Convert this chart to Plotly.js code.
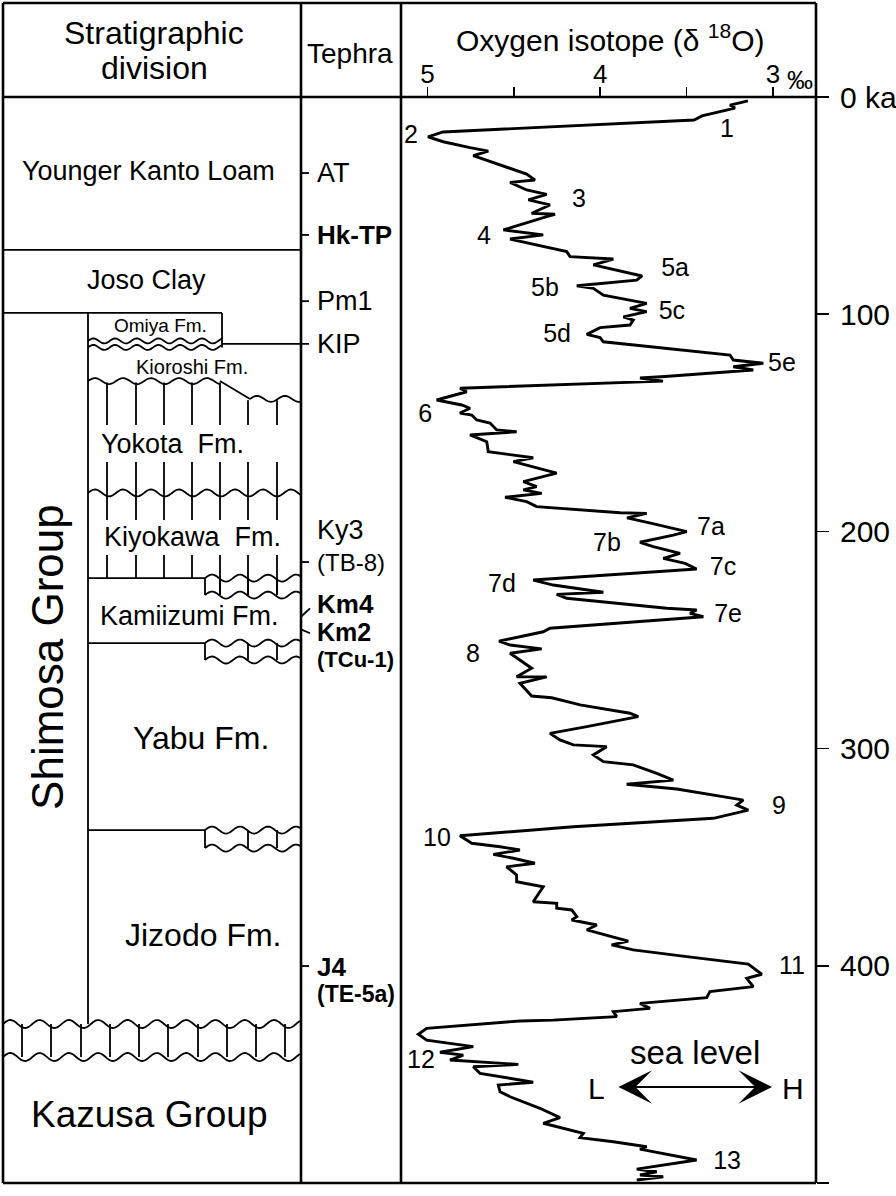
<!DOCTYPE html>
<html>
<head>
<meta charset="utf-8">
<script src="https://cdn.plot.ly/plotly-3.0.1.min.js"></script>
<style>html,body{margin:0;padding:0;background:#fff}</style>
</head>
<body>
<div id="chart" style="width:896px;height:1196px"></div>
<script>
// oxygen isotope curve, age in ka and d18O in permil
const ageKa = [1.8, 3.7, 5.1, 7.4, 8.7, 10.6, 16.1, 18.4, 20.6, 23.3, 24.9, 27.0, 31.3, 35.5, 38.2, 39.3, 42.8, 44.8, 47.4, 49.7,
  53.5, 54.0, 55.1, 61.2, 63.5, 65.4, 71.2, 73.5, 74.6, 77.3, 82.4, 84.3, 86.9, 88.1, 91.2, 95.0, 97.3, 98.8, 101.2, 102.7,
  105.0, 106.2, 109.3, 110.8, 112.7, 118.8, 121.1, 122.6, 124.2, 125.7, 128.7, 129.4, 130.8, 134.1, 135.7, 139.5, 141.8, 143.3, 145.5, 146.4,
  148.7, 150.1, 153.3, 154.1, 155.6, 158.7, 163.3, 166.1, 167.9, 173.2, 177.1, 179.4, 180.9, 182.5, 184.3, 186.3, 188.6, 191.4, 191.7, 193.8,
  196.3, 200.1, 201.7, 205.0, 207.0, 210.1, 212.4, 214.7, 217.3, 222.4, 224.7, 228.0, 229.0, 230.8, 235.4, 236.2, 237.7, 239.3, 244.6, 246.2,
  250.5, 252.3, 254.1, 256.1, 263.0, 266.9, 267.0, 269.9, 275.8, 276.6, 279.1, 279.9, 283.7, 285.3, 289.9, 291.4, 293.0, 296.0, 298.3, 299.1,
  302.9, 306.0, 307.5, 311.4, 314.5, 316.4, 318.6, 322.9, 323.7, 326.0, 328.3, 332.1, 336.0, 340.1, 343.6, 345.2, 346.7, 348.7, 350.5, 352.8,
  354.4, 358.2, 361.3, 363.6, 370.5, 371.2, 373.5, 374.3, 377.4, 378.9, 381.2, 383.5, 387.3, 388.6, 390.4, 392.7, 395.8, 396.5, 399.2, 403.9,
  405.8, 409.6, 411.9, 414.7, 417.3, 419.6, 421.1, 423.4, 425.0, 425.4, 428.8, 431.5, 434.2, 437.2, 439.8, 441.1, 443.4, 445.4, 446.5, 449.5,
  453.6, 454.9, 458.0, 460.3, 465.6, 469.9, 472.5, 477.1, 479.1, 481.0, 483.3, 484.4, 489.4, 493.6, 494.8, 496.3, 497.1, 498.6];
const d18O = [3.145, 3.249, 3.220, 3.347, 3.411, 3.457, 4.910, 4.997, 4.909, 4.754, 4.648, 4.735, 4.580, 4.426, 4.378, 4.522, 4.426, 4.310, 4.416, 4.291,
  4.397, 4.262, 4.310, 4.561, 4.330, 4.522, 4.194, 4.175, 3.924, 4.040, 3.758, 3.789, 4.136, 4.040, 3.982, 3.731, 3.828, 3.731, 3.866, 3.809,
  3.828, 4.001, 4.078, 4.001, 3.982, 3.249, 3.230, 3.056, 3.230, 3.114, 3.625, 3.770, 3.637, 4.812, 4.773, 4.947, 4.802, 4.754, 4.812, 4.744,
  4.715, 4.638, 4.599, 4.484, 4.754, 4.657, 4.648, 4.388, 4.503, 4.252, 4.445, 4.368, 4.445, 4.339, 4.551, 4.426, 4.368, 3.886, 3.731, 3.845,
  3.702, 3.499, 3.577, 3.770, 3.693, 3.538, 3.635, 3.509, 3.442, 4.388, 4.272, 3.982, 4.252, 4.194, 3.615, 3.442, 3.480, 3.403, 4.291, 4.330,
  4.586, 4.522, 4.339, 4.522, 4.397, 4.484, 4.310, 4.465, 4.397, 4.281, 4.156, 4.117, 3.828, 3.780, 4.078, 4.194, 4.291, 4.233, 4.156, 3.963,
  4.040, 3.982, 3.809, 3.673, 3.577, 3.847, 3.557, 3.230, 3.172, 3.210, 3.143, 3.345, 4.156, 4.812, 4.744, 4.580, 4.465, 4.619, 4.503, 4.378,
  4.542, 4.484, 4.484, 4.330, 4.388, 4.252, 4.252, 4.165, 4.136, 4.165, 4.020, 4.078, 3.886, 3.838, 3.934, 3.809, 3.499, 3.422, 3.143, 3.065,
  3.152, 3.114, 3.365, 3.384, 3.770, 3.712, 3.924, 3.905, 4.272, 4.465, 5.005, 5.053, 5.005, 4.735, 4.928, 4.793, 4.870, 4.474, 4.735, 4.696,
  4.388, 4.590, 4.580, 4.522, 4.349, 4.233, 4.330, 4.098, 4.117, 3.924, 3.731, 3.770, 3.442, 3.789, 3.673, 3.770, 3.635, 3.789];

// marine isotope stage labels
const misText = ['1', '2', '3', '4', '5a', '5b', '5c', '5d', '5e', '6', '7a', '7b', '7c', '7d', '7e', '8', '9', '10', '11', '12', '13'];
const misAge = [15.7, 18.4, 47.9, 64.9, 79.7, 88.9, 99.4, 110.0, 123.4, 146.9, 198.9, 206.3, 217.3, 225.1, 239.0, 257.4, 327.3, 342.1, 401.0, 444.3, 490.8];
const misD18O = [3.266, 5.096, 4.123, 4.673, 3.567, 4.320, 3.585, 4.250, 2.948, 5.014, 3.359, 3.961, 3.289, 4.569, 3.260, 4.737, 2.965, 4.945, 2.890, 5.038, 3.266];

// axes ticks
const isoTicks = [5, 4.5, 4, 3.5, 3];
const isoTickText = ['5', '', '4', '', '3'];
const ageTicks = [0, 100, 200, 300, 400, 500];
const ageTickText = ['0 ka', '100', '200', '300', '400', '500'];

// stratigraphic units and label ages (ka)
const unitNames = ['Younger Kanto Loam', 'Joso Clay', 'Omiya Fm.', 'Kioroshi Fm.', 'Yokota\u00a0 Fm.', 'Kiyokawa\u00a0 Fm.',
  'Kamiizumi Fm.', 'Yabu Fm.', 'Jizodo Fm.', 'Kazusa Group'];
const unitLabelAge = [34.1, 84.3, 105.0, 124.2, 159.8, 202.4, 238.9, 295.1, 385.6, 468.5];

// unit boundaries (ka)
const baseYKL = 70.4;
const baseJoso = 99.4;
const baseOmiya = [112.3, 115.3];
const baseKioroshi = [130.8, 139.0];
const baseYokota = 182.3;
const baseKiyokawa = [221.5, 229.3];
const baseKamiizumi = [251.4, 259.2];
const baseYabu = [337.5, 345.8];
const baseJizodo = [426.8, 442.0];
const hatchBreaks = [151.0, 168.0, 194.7, 210.9];

// tephra
const tephraNames = ['AT', '<b>Hk-TP</b>', 'Pm1', 'KIP', 'Ky3', '(TB-8)', '<b>Km4</b>', '<b>Km2</b>', '<b>(TCu-1)</b>', '<b>J4</b>', '<b>(TE-5a)</b>'];
const tephraLabelAge = [35.0, 63.5, 94.0, 113.5, 199.3, 214.1, 233.6, 246.4, 258.9, 400.6, 412.8];
const tephraTickAge = [35.0, 63.5, 94.0, 214.1, 400.1];
const kipAge = 113.7;
const km4Tick = [239.3, 235.4];
const km2Tick = [245.1, 246.9];

// ---- layout helpers (pixel positions) ----
const W = 896, H = 1196;
const px = x => x / W;
const py = y => 1 - y / H;
const kaPerPx = 500 / (1183 - 97);
const FONT = 'Liberation Sans, Arial, sans-serif';

const shapes = [];
function pline(x0, y0, x1, y1, w) {
  shapes.push({type: 'line', xref: 'paper', yref: 'paper', x0: px(x0), x1: px(x1), y0: py(y0), y1: py(y1),
    line: {color: '#000', width: w}});
}
function kline(x0, k0, x1, k1, w) {
  shapes.push({type: 'line', xref: 'paper', yref: 'y', x0: px(x0), x1: px(x1), y0: k0, y1: k1,
    line: {color: '#000', width: w}});
}
function wave(xa, xb, k, amp, period, w) {
  let d = '';
  for (let x = xa; x <= xb + 0.01; x += 1.5) {
    const yy = k - amp * kaPerPx * Math.sin(2 * Math.PI * (x - xa) / period);
    d += (d ? 'L' : 'M') + px(x).toFixed(5) + ',' + yy.toFixed(3);
  }
  shapes.push({type: 'path', xref: 'paper', yref: 'y', path: d, line: {color: '#000', width: w}});
}

const thin = 1.8, thick = 2.6;
// frame
pline(3, 3, 816, 3, thick);
pline(3, 1183, 816, 1183, thick);
pline(3, 3, 3, 1183, thick);
pline(816, 3, 816, 1183, thick);
pline(3, 97, 816, 97, thick);
pline(301, 3, 301, 1183, thick);
pline(401, 3, 401, 1183, thick);

// stratigraphic column
kline(3, baseYKL, 301, baseYKL, thin);
kline(3, baseJoso, 222, baseJoso, thin);
kline(88, baseJoso, 88, baseJizodo[0], thin);
kline(222, baseJoso, 222, baseOmiya[1], thin);
wave(88, 222, baseOmiya[0], 2.5, 21.7, thin);
wave(88, 222, baseOmiya[1], 2.5, 21.7, thin);
kline(222, kipAge, 309, kipAge, thin);
wave(88, 220, baseKioroshi[0], 3, 28, thin);
kline(220, baseKioroshi[0], 250, baseKioroshi[1], thin);
wave(250, 301, baseKioroshi[1], 3, 28, thin);
wave(88, 301, baseYokota, 3.5, 28, thin);
[[baseKiyokawa, [205, 220, 248, 277]], [baseKamiizumi, [205, 248, 277]], [baseYabu, [205, 248, 277]]].forEach(([b, xs]) => {
  kline(88, b[0], 205, b[0], thin);
  wave(205, 301, b[0], 3.5, 28, thin);
  wave(205, 301, b[1], 3.5, 28, thin);
  xs.forEach(x => kline(x, b[0], x, b[1], thin));
});
wave(3, 301, baseJizodo[0], 4, 29.3, thin);
wave(3, 301, baseJizodo[1], 4, 29.3, thin);
[22, 51, 81, 110, 139, 168, 198, 227, 256, 285].forEach(x => kline(x, baseJizodo[0], x, baseJizodo[1], thin));
[107, 136, 164, 192, 220, 248, 277].forEach(x => {
  const top = x < 240 ? baseKioroshi[0] + 0.6 : baseKioroshi[1] + 0.6;
  kline(x, top, x, hatchBreaks[0], thin);
  kline(x, hatchBreaks[1], x, hatchBreaks[2], thin);
  kline(x, hatchBreaks[3], x, x < 205 ? baseKiyokawa[0] : baseKiyokawa[1], thin);
});

// tephra ticks
tephraTickAge.forEach(a => kline(301, a, 309, a, thin));
kline(301, km4Tick[0], 310, km4Tick[1], thin);
kline(301, km2Tick[0], 310, km2Tick[1], thin);

// annotations
const ann = [];
function txt(text, x, yv, yref, size, opts) {
  ann.push(Object.assign({text: text, xref: 'paper', yref: yref, x: px(x), y: yref === 'paper' ? py(yv) : yv,
    showarrow: false, xanchor: 'center', yanchor: 'middle', font: {family: FONT, size: size, color: '#000'}}, opts || {}));
}
txt('Stratigraphic', 154, 33, 'paper', 32);
txt('division', 154, 68, 'paper', 32);
txt('Tephra', 350, 53, 'paper', 28);
txt('Oxygen isotope (\u03b4 <sup>18</sup>O)', 610, 38, 'paper', 30);
txt('\u2030', 800, 80, 'paper', 26);

const unitX = [148, 146, 160, 192, 172, 192, 189, 201, 203, 149];
const unitSize = [27, 27, 19, 20, 27, 27, 27, 32, 32, 37];
unitNames.forEach((n, i) => txt(n, unitX[i], unitLabelAge[i], 'y', unitSize[i]));
txt('Shimosa Group', 48, 257.8, 'y', 44, {textangle: -90});

const tephraSize = [27, 26, 27, 27, 27, 24, 26, 25, 22, 26, 23];
tephraNames.forEach((n, i) => txt(n, 315, tephraLabelAge[i], 'y', tephraSize[i], {xanchor: 'left'}));

// sea level arrow
txt('sea level', 695, 1052, 'paper', 33);
txt('L', 596, 1088, 'paper', 30);
txt('H', 793, 1088, 'paper', 30);
ann.push({text: '', xref: 'paper', yref: 'paper', x: px(772), y: py(1087), ax: -155, ay: 0,
  showarrow: true, arrowside: 'end+start', arrowhead: 3, arrowsize: 2.8, arrowwidth: 2, arrowcolor: '#000',
  standoff: 0, startstandoff: 0});

const curve = {
  type: 'scatter', mode: 'lines', x: d18O, y: ageKa,
  line: {color: '#000', width: 2.9}, hoverinfo: 'skip'
};
const misLabels = {
  type: 'scatter', mode: 'text', x: misD18O, y: misAge, text: misText,
  textfont: {family: FONT, size: 25, color: '#000'}, textposition: 'middle center',
  cliponaxis: false, hoverinfo: 'skip'
};

const layout = {
  width: W, height: H,
  margin: {l: 0, r: 0, t: 0, b: 0},
  paper_bgcolor: '#fff', plot_bgcolor: '#fff',
  showlegend: false,
  font: {family: FONT, color: '#000'},
  xaxis: {
    domain: [px(401), px(816)], range: [5.1534, 2.751], side: 'top',
    showline: false, showgrid: false, zeroline: false,
    ticks: 'outside', ticklen: 9, tickwidth: 1.5, tickcolor: '#000',
    tickvals: isoTicks, ticktext: isoTickText, ticklabelstandoff: -6,
    tickfont: {family: FONT, size: 26, color: '#000'}
  },
  yaxis: {
    domain: [py(1183), py(97)], range: [500, 0], side: 'right',
    showline: false, showgrid: false, zeroline: false,
    ticks: 'outside', ticklen: 12, tickwidth: 1.5, tickcolor: '#000',
    tickvals: ageTicks, ticktext: ageTickText, ticklabelstandoff: 5,
    tickfont: {family: FONT, size: 30, color: '#000'}
  },
  shapes: shapes,
  annotations: ann
};

Plotly.newPlot('chart', [curve, misLabels], layout, {staticPlot: true, displayModeBar: false});
</script>
</body>
</html>
